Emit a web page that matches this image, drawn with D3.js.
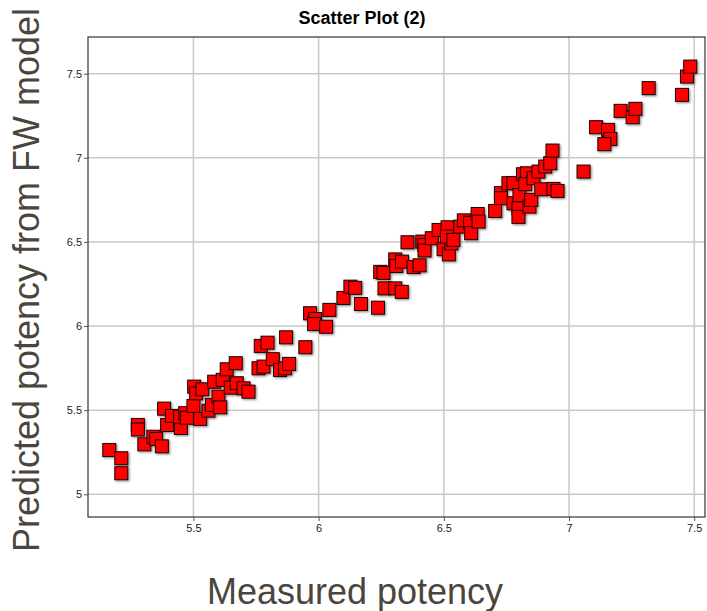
<!DOCTYPE html>
<html>
<head>
<meta charset="utf-8">
<script src="https://cdn.jsdelivr.net/npm/d3@7"></script>
<style>
  html, body { margin: 0; padding: 0; background: #fff; }
  svg { display: block; }
</style>
</head>
<body>
<svg id="chart" width="707" height="611"></svg>
<script>
// ---- Data ----
const measured = [
  5.164, 5.212, 5.212, 5.278, 5.278, 5.304, 5.340, 5.351, 5.374, 5.383,
  5.395, 5.414, 5.450, 5.447, 5.467, 5.474, 5.500, 5.503, 5.511, 5.527,
  5.536, 5.560, 5.574, 5.583, 5.600, 5.607, 5.617, 5.633, 5.649, 5.669,
  5.673, 5.700, 5.720, 5.769, 5.796, 5.760, 5.780, 5.817, 5.846, 5.866,
  5.882, 5.870, 5.947, 5.966, 5.986, 5.982, 6.030, 6.043, 6.099, 6.127,
  6.146, 6.169, 6.237, 6.246, 6.259, 6.263, 6.306, 6.332, 6.306, 6.310,
  6.333, 6.379, 6.403, 6.355, 6.414, 6.422, 6.423, 6.452, 6.479, 6.499,
  6.520, 6.515, 6.530, 6.512, 6.538, 6.566, 6.580, 6.605, 6.609, 6.635,
  6.639, 6.705, 6.728, 6.728, 6.758, 6.778, 6.778, 6.798, 6.798, 6.802,
  6.816, 6.832, 6.825, 6.842, 6.849, 6.858, 6.878, 6.889, 6.905, 6.925,
  6.934, 6.938, 6.954, 7.058, 7.108, 7.156, 7.165, 7.141, 7.206, 7.254,
  7.265, 7.318, 7.451, 7.471, 7.484
];
const predicted = [
  5.263, 5.214, 5.125, 5.412, 5.385, 5.297, 5.342, 5.329, 5.285, 5.509,
  5.412, 5.466, 5.394, 5.461, 5.482, 5.455, 5.525, 5.640, 5.600, 5.448,
  5.624, 5.497, 5.531, 5.669, 5.580, 5.517, 5.680, 5.743, 5.634, 5.779,
  5.660, 5.630, 5.610, 5.882, 5.901, 5.749, 5.759, 5.803, 5.739, 5.749,
  5.775, 5.933, 5.874, 6.076, 6.042, 6.012, 5.996, 6.096, 6.167, 6.234,
  6.227, 6.131, 6.109, 6.322, 6.316, 6.224, 6.224, 6.203, 6.396, 6.357,
  6.383, 6.351, 6.361, 6.498, 6.502, 6.482, 6.449, 6.522, 6.571, 6.457,
  6.426, 6.587, 6.491, 6.532, 6.512, 6.591, 6.628, 6.614, 6.552, 6.666,
  6.621, 6.684, 6.790, 6.760, 6.849, 6.849, 6.730, 6.699, 6.649, 6.779,
  6.902, 6.908, 6.843, 6.710, 6.750, 6.879, 6.918, 6.813, 6.948, 6.968,
  7.043, 6.815, 6.803, 6.918, 7.182, 7.166, 7.112, 7.081, 7.279, 7.241,
  7.291, 7.414, 7.374, 7.483, 7.542
];
const xTicks = [5.5, 6, 6.5, 7, 7.5];
const yTicks = [5, 5.5, 6, 6.5, 7, 7.5];
const xDomain = [5.079, 7.543];
const yDomain = [4.865, 7.718];
const titleText = "Scatter Plot (2)";
const xTitle = "Measured potency";
const yTitle = "Predicted potency from FW model";

// ---- Layout ----
const svg = d3.select("#chart");
const plot = { left: 88, top: 37, right: 705, bottom: 517 };

const x = d3.scaleLinear().domain(xDomain).range([plot.left, plot.right]);
const y = d3.scaleLinear().domain(yDomain).range([plot.bottom, plot.top]);
const fmt = d3.format("~g");

const defs = svg.append("defs");
const f = defs.append("filter").attr("id", "shadow")
  .attr("x", "-30%").attr("y", "-30%").attr("width", "170%").attr("height", "170%");
f.append("feDropShadow").attr("dx", 1.2).attr("dy", 1.2)
  .attr("stdDeviation", 0.8).attr("flood-color", "#000").attr("flood-opacity", 0.45);

// grid
const grid = svg.append("g").attr("stroke", "#cdc9c1").attr("stroke-width", 1.5);
grid.selectAll("line.vx").data(xTicks).join("line")
  .attr("x1", d => x(d)).attr("x2", d => x(d))
  .attr("y1", plot.top).attr("y2", plot.bottom);
grid.selectAll("line.hy").data(yTicks).join("line")
  .attr("x1", plot.left).attr("x2", plot.right)
  .attr("y1", d => y(d)).attr("y2", d => y(d));

// frame
svg.append("rect")
  .attr("x", plot.left).attr("y", plot.top)
  .attr("width", plot.right - plot.left).attr("height", plot.bottom - plot.top)
  .attr("fill", "none").attr("stroke", "#333").attr("stroke-width", 1.2);

// axes
const xAxis = svg.append("g")
  .attr("transform", `translate(0,${plot.bottom})`)
  .call(d3.axisBottom(x).tickValues(xTicks).tickFormat(fmt).tickSize(4).tickPadding(3));
const yAxis = svg.append("g")
  .attr("transform", `translate(${plot.left},0)`)
  .call(d3.axisLeft(y).tickValues(yTicks).tickFormat(fmt).tickSize(4).tickPadding(2));
[xAxis, yAxis].forEach(a => {
  a.select(".domain").remove();
  a.selectAll(".tick line").attr("stroke", "#555");
  a.selectAll(".tick text")
    .attr("font-family", "Liberation Sans, Arial, sans-serif")
    .attr("font-size", 11).attr("fill", "#222");
});

// points
const data = measured.map((m, i) => ({ m, p: predicted[i] }));
const s = 13;
svg.append("g").attr("filter", "url(#shadow)")
  .selectAll("rect").data(data).join("rect")
  .attr("x", d => x(d.m) - s / 2)
  .attr("y", d => y(d.p) - s / 2)
  .attr("width", s).attr("height", s)
  .attr("fill", "#ff0000").attr("stroke", "#1a0000").attr("stroke-width", 1);

// title
svg.append("text")
  .attr("x", 362).attr("y", 24)
  .attr("text-anchor", "middle")
  .attr("font-family", "Liberation Sans, Arial, sans-serif")
  .attr("font-weight", "bold").attr("font-size", 18).attr("fill", "#000")
  .text(titleText);

// axis titles
svg.append("text")
  .attr("x", 355).attr("y", 604)
  .attr("text-anchor", "middle")
  .attr("font-family", "Liberation Sans, Arial, sans-serif")
  .attr("font-size", 36).attr("fill", "#4a463d")
  .text(xTitle);
svg.append("text")
  .attr("transform", "translate(39,280) rotate(-90)")
  .attr("text-anchor", "middle")
  .attr("font-family", "Liberation Sans, Arial, sans-serif")
  .attr("font-size", 36).attr("fill", "#4a463d")
  .text(yTitle);
</script>
</body>
</html>
